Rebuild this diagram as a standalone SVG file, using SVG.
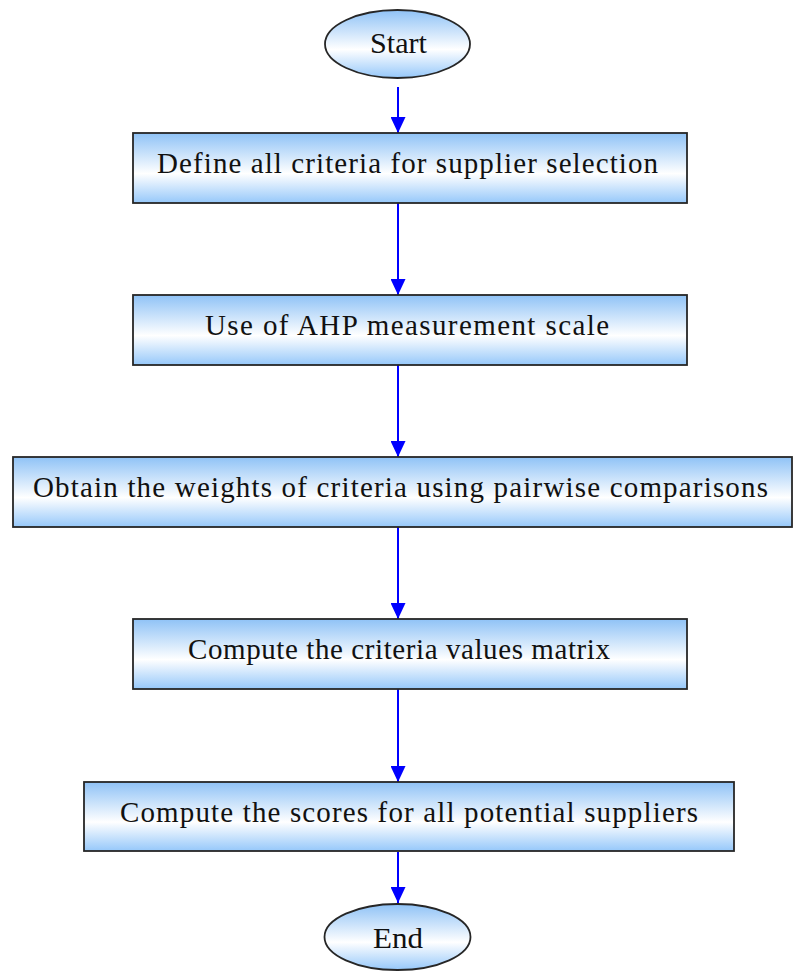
<svg xmlns="http://www.w3.org/2000/svg" width="794" height="971" viewBox="0 0 794 971">
  <defs>
    <linearGradient id="fillBlue" x1="0" y1="0" x2="0" y2="1">
      <stop offset="0" stop-color="#8fc2f6"/>
      <stop offset="0.58" stop-color="#ffffff"/>
      <stop offset="1" stop-color="#96c8fa"/>
    </linearGradient>
    <marker id="head" viewBox="0 0 16 15" refX="16" refY="7.5" markerWidth="16" markerHeight="15" markerUnits="userSpaceOnUse" orient="auto">
      <path d="M0,0 L16,7.5 L0,15 Z" fill="#0000ff"/>
    </marker>
  </defs>
  <style>
    .shape { fill: url(#fillBlue); stroke: #262626; stroke-width: 1.8; }
    .label { font-family: "Liberation Serif", "Times New Roman", serif; font-size: 29px; fill: #111; text-anchor: middle; }
    .flow { stroke: #0000ff; stroke-width: 2; fill: none; marker-end: url(#head); }
  </style>
  <rect width="794" height="971" fill="#ffffff"/>

  <g id="connectors">
    <line class="flow" x1="398" y1="87" x2="398" y2="133"/>
    <line class="flow" x1="398" y1="203" x2="398" y2="295"/>
    <line class="flow" x1="398" y1="365" x2="398" y2="457"/>
    <line class="flow" x1="398" y1="527" x2="398" y2="619"/>
    <line class="flow" x1="398" y1="689" x2="398" y2="782"/>
    <line class="flow" x1="398" y1="852" x2="398" y2="903"/>
  </g>

  <g id="start">
    <ellipse class="shape" cx="397.5" cy="44" rx="72.5" ry="34"/>
    <text class="label" x="398.5" y="53" textLength="57" lengthAdjust="spacingAndGlyphs">Start</text>
  </g>

  <g id="define-criteria">
    <rect class="shape" x="133" y="133" width="554" height="70"/>
    <text class="label" x="407.5" y="173" textLength="501" lengthAdjust="spacing">Define all criteria for supplier selection</text>
  </g>

  <g id="ahp-scale">
    <rect class="shape" x="133" y="295" width="554" height="70"/>
    <text class="label" x="407" y="335" textLength="404" lengthAdjust="spacing">Use of AHP measurement scale</text>
  </g>

  <g id="obtain-weights">
    <rect class="shape" x="13" y="457" width="779" height="70"/>
    <text class="label" x="400.5" y="497" textLength="735" lengthAdjust="spacing">Obtain the weights of criteria using pairwise comparisons</text>
  </g>

  <g id="criteria-matrix">
    <rect class="shape" x="133" y="619" width="554" height="70"/>
    <text class="label" x="399" y="659" textLength="422" lengthAdjust="spacing">Compute the criteria values matrix</text>
  </g>

  <g id="supplier-scores">
    <rect class="shape" x="84" y="782" width="650" height="69"/>
    <text class="label" x="409" y="822" textLength="578" lengthAdjust="spacing">Compute the scores for all potential suppliers</text>
  </g>

  <g id="end">
    <ellipse class="shape" cx="397.5" cy="937" rx="73" ry="33"/>
    <text class="label" x="398" y="948" textLength="50" lengthAdjust="spacingAndGlyphs">End</text>
  </g>
</svg>
